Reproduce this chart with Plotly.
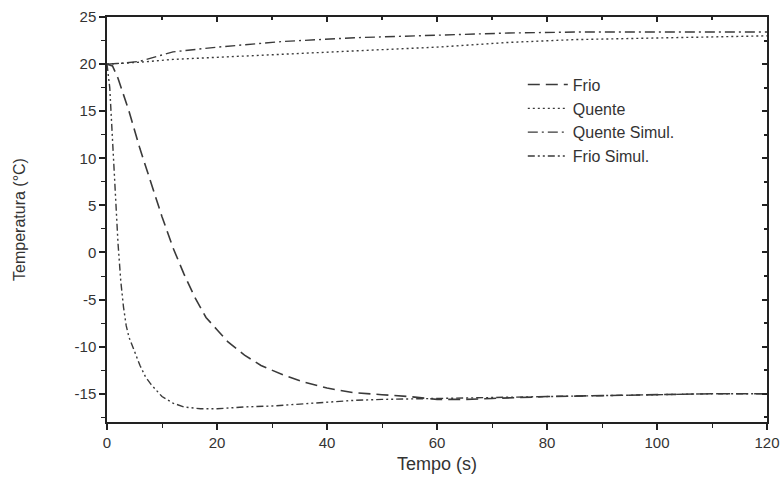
import plotly.graph_objects as go

# --- data ---
frio_t = [0, 1, 2, 4, 6, 8, 10, 12, 14, 16, 18, 20, 22, 25, 28, 32, 36, 40, 45, 50, 55, 60, 65, 70, 75, 80, 90, 100, 110, 120]
frio_T = [20, 19.8, 18.5, 15, 11, 7.3, 3.8, 0.5, -2.3, -4.8, -6.9, -8.2, -9.5, -10.9, -12, -13, -13.8, -14.4, -14.9, -15.1, -15.3, -15.6, -15.6, -15.5, -15.4, -15.3, -15.2, -15.1, -15.0, -15.0]

quente_t = [0, 3, 6, 12, 20, 32, 45, 60, 73, 85, 100, 110, 120]
quente_T = [20, 20.1, 20.2, 20.5, 20.7, 21.0, 21.4, 21.8, 22.3, 22.6, 22.8, 22.9, 23.0]

qsim_t = [0, 3, 6, 12, 20, 32, 45, 60, 73, 85, 100, 110, 120]
qsim_T = [20, 20.1, 20.3, 21.3, 21.8, 22.4, 22.8, 23.1, 23.3, 23.4, 23.4, 23.4, 23.4]

fsim_t = [0, 0.5, 1, 1.5, 2, 2.5, 3, 3.5, 4, 5, 6, 7, 8, 10, 12, 14, 17, 20, 25, 30, 35, 40, 45, 50, 60, 70, 80, 90, 100, 110, 120]
fsim_T = [20, 17.5, 12, 6, 1, -3, -5.8, -7.8, -9, -10.5, -12, -13.2, -14, -15.3, -16, -16.4, -16.6, -16.6, -16.4, -16.3, -16.1, -15.9, -15.7, -15.6, -15.5, -15.4, -15.3, -15.2, -15.1, -15.0, -15.0]

x_ticks = [0, 20, 40, 60, 80, 100, 120]
x_labels = ["0", "20", "40", "60", "80", "100", "120"]
y_ticks = [-15, -10, -5, 0, 5, 10, 15, 20, 25]
y_labels = ["-15", "-10", "-5", "0", "5", "10", "15", "20", "25"]

col = "#3a3a3a"
fig = go.Figure()
fig.add_trace(go.Scatter(x=frio_t, y=frio_T, mode="lines", name="Frio",
                         line=dict(color=col, width=1.6, dash="12px,6px")))
fig.add_trace(go.Scatter(x=quente_t, y=quente_T, mode="lines", name="Quente",
                         line=dict(color=col, width=1.4, dash="2px,3px")))
fig.add_trace(go.Scatter(x=qsim_t, y=qsim_T, mode="lines", name="Quente Simul.",
                         line=dict(color=col, width=1.4, dash="10px,4px,2px,4px")))
fig.add_trace(go.Scatter(x=fsim_t, y=fsim_T, mode="lines", name="Frio Simul.",
                         line=dict(color=col, width=1.4, dash="7px,3px,2px,3px,2px,3px")))

# overlay axes for inward ticks on the top/right
fig.add_trace(go.Scatter(x=[None], y=[None], xaxis="x2", yaxis="y2", showlegend=False))

axis_font = dict(family="Liberation Sans, Arial, sans-serif", size=15, color="#333")
fig.update_layout(
    width=780, height=487,
    paper_bgcolor="white", plot_bgcolor="white",
    margin=dict(l=107, r=13, t=17, b=65),
    font=dict(family="Liberation Sans, Arial, sans-serif", color="#333"),
    xaxis=dict(range=[0, 120], tickvals=x_ticks, ticktext=x_labels, ticks="outside", ticklen=6, tickwidth=1.5,
               tickcolor="#222", showline=True, linecolor="#222", linewidth=1.5,
               showgrid=False, zeroline=False, tickfont=axis_font, automargin=False,
               minor=dict(dtick=10, ticks="outside", ticklen=4, tickcolor="#222", tickwidth=1.2),
               title=dict(text="Tempo (s)", font=dict(size=18, color="#333"), standoff=8)),
    yaxis=dict(range=[-18, 25], tickvals=y_ticks, ticktext=y_labels, ticks="outside", ticklen=6, tickwidth=1.5,
               tickcolor="#222", showline=True, linecolor="#222", linewidth=1.5,
               showgrid=False, zeroline=False, tickfont=axis_font, automargin=False,
               minor=dict(dtick=2.5, tick0=0, ticks="outside", ticklen=4, tickcolor="#222", tickwidth=1.2),
               title=dict(text="Temperatura (°C)", font=dict(size=16, color="#333"), standoff=45)),
    xaxis2=dict(range=[0, 120], overlaying="x", side="top", tickvals=x_ticks, ticks="inside",
                ticklen=5, tickcolor="#222", tickwidth=1.5, showticklabels=False, showline=True,
                linecolor="#222", linewidth=1.5, showgrid=False, zeroline=False, automargin=False,
                minor=dict(dtick=10, ticks="inside", ticklen=3, tickcolor="#222")),
    yaxis2=dict(range=[-18, 25], overlaying="y", side="right", tickvals=y_ticks, ticks="inside",
                ticklen=5, tickcolor="#222", tickwidth=1.5, showticklabels=False, showline=True,
                linecolor="#222", linewidth=1.5, showgrid=False, zeroline=False, automargin=False,
                minor=dict(dtick=2.5, tick0=0, ticks="inside", ticklen=3, tickcolor="#222")),
    legend=dict(x=0.63, y=0.875, xanchor="left", yanchor="top", bgcolor="rgba(0,0,0,0)",
                font=dict(size=16, color="#333"), tracegroupgap=0, itemwidth=40),
    showlegend=True,
)

fig.write_html("out.html", config={"displayModeBar": False},
               post_script="document.body.style.margin='0';document.body.style.overflow='hidden';")
